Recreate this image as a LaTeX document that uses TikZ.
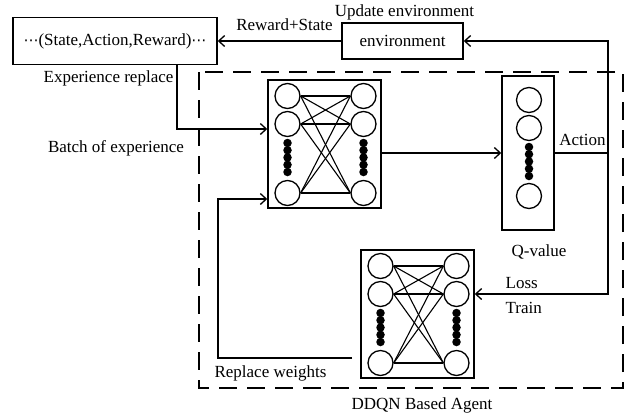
\documentclass[tikz,border=0pt]{standalone}
\usepackage{fontspec}
\setmainfont{Liberation Serif}
\newfontfamily\symfont{DejaVu Sans}
\usetikzlibrary{arrows.meta,calc}
\begin{document}
\begin{tikzpicture}[x=1bp,y=-1bp, line width=1.3bp,
  lbl/.style={font=\fontsize{17bp}{20bp}\selectfont, inner sep=0pt},
  box/.style={draw, line width=1.5bp, inner sep=0pt},
  arr/.style={-{Straight Barb[length=6bp,width=11bp]}},
  neuron/.style={circle, draw, line width=1.3bp, minimum size=25bp, inner sep=0pt},
  ndot/.style={circle, fill, minimum size=8.5bp, inner sep=0pt},
  agentbox/.style={draw, dash pattern=on 18bp off 10bp, line width=1.5bp},
  pics/nnet/.style={code={
    \node[box, minimum width=113bp, minimum height=128bp] (-box) at (0,0) {};
    \foreach \s/\x in {l/-37,r/39}{
      \node[neuron] (-\s1) at (\x,-48) {};
      \node[neuron] (-\s2) at (\x,-20) {};
      \node[neuron] (-\s3) at (\x,49) {};
      \foreach \k in {0,...,4}{\node[ndot] at (\x,{-1+7.25*\k}) {};}
    }
    \foreach \i in {1,2,3}{\foreach \j in {1,2,3}{\draw[line width=1.1bp] (-l\i.east) -- (-r\j.west);}}
  }}]
\useasboundingbox (0,0) rectangle (629,416);

% dashed agent region
\draw[agentbox] (199,72) rectangle (623,388);

% boxes
\node[box, lbl, draw, minimum width=204bp, minimum height=47bp] (mem) at (115,41) {{\symfont\fontsize{15bp}{18bp}\selectfont ⋯}(State,Action,Reward){\symfont\fontsize{15bp}{18bp}\selectfont ⋯}};
\node[box, lbl, draw, minimum width=121bp, minimum height=36bp] (env) at (402.5,41) {environment};

\pic (net1) at (324.5,144) {nnet};
\pic (net2) at (417.5,314) {nnet};

\node[box, minimum width=52bp, minimum height=154bp] (qbox) at (528,153) {};
\node[neuron] (q1) at (529,100) {};
\node[neuron] (q2) at (529,128) {};
\node[neuron] (q3) at (529,196) {};
\foreach \k in {0,...,4}{\node[ndot] at (529,{147+7.25*\k}) {};}

% labels
\node[lbl] (lrs) at (284.5,25) {Reward+State};
\node[lbl] (lue) at (404.5,12) {Update environment};
\node[lbl] (ler) at (108.5,78) {Experience replace};
\node[lbl] (lbe) at (116,148) {Batch of experience};
\node[lbl] (lact) at (582.5,140) {Action};
\node[lbl] (lq) at (539,252) {Q-value};
\node[lbl, anchor=west] (lloss) at (505,283) {Loss};
\node[lbl, anchor=west] (ltrain) at (505,308) {Train};
\node[lbl] (lrw) at (270.5,373) {Replace weights};
\node[lbl] (lag) at (422,405) {DDQN Based Agent};

% connectors
\coordinate (junc) at (608,153);
\draw (qbox.east) -- (junc);
\draw[arr] (junc) |- (env.east);
\draw[arr] (junc) |- (net2-r2 -| net2-box.east);
\draw[arr] (env.west) -- (mem.east);
\draw[arr] (net1-box.east |- qbox.west) -- (qbox.west);
\coordinate (erc) at (177,129);
\draw[arr] (mem.south -| erc) |- (net1-box.west |- erc);
\coordinate (rws) at (352,358);
\coordinate (rwc) at (218,199);
\draw[arr] (rws) -| (rwc) -- (net1-box.west |- rwc);
\end{tikzpicture}
\end{document}
